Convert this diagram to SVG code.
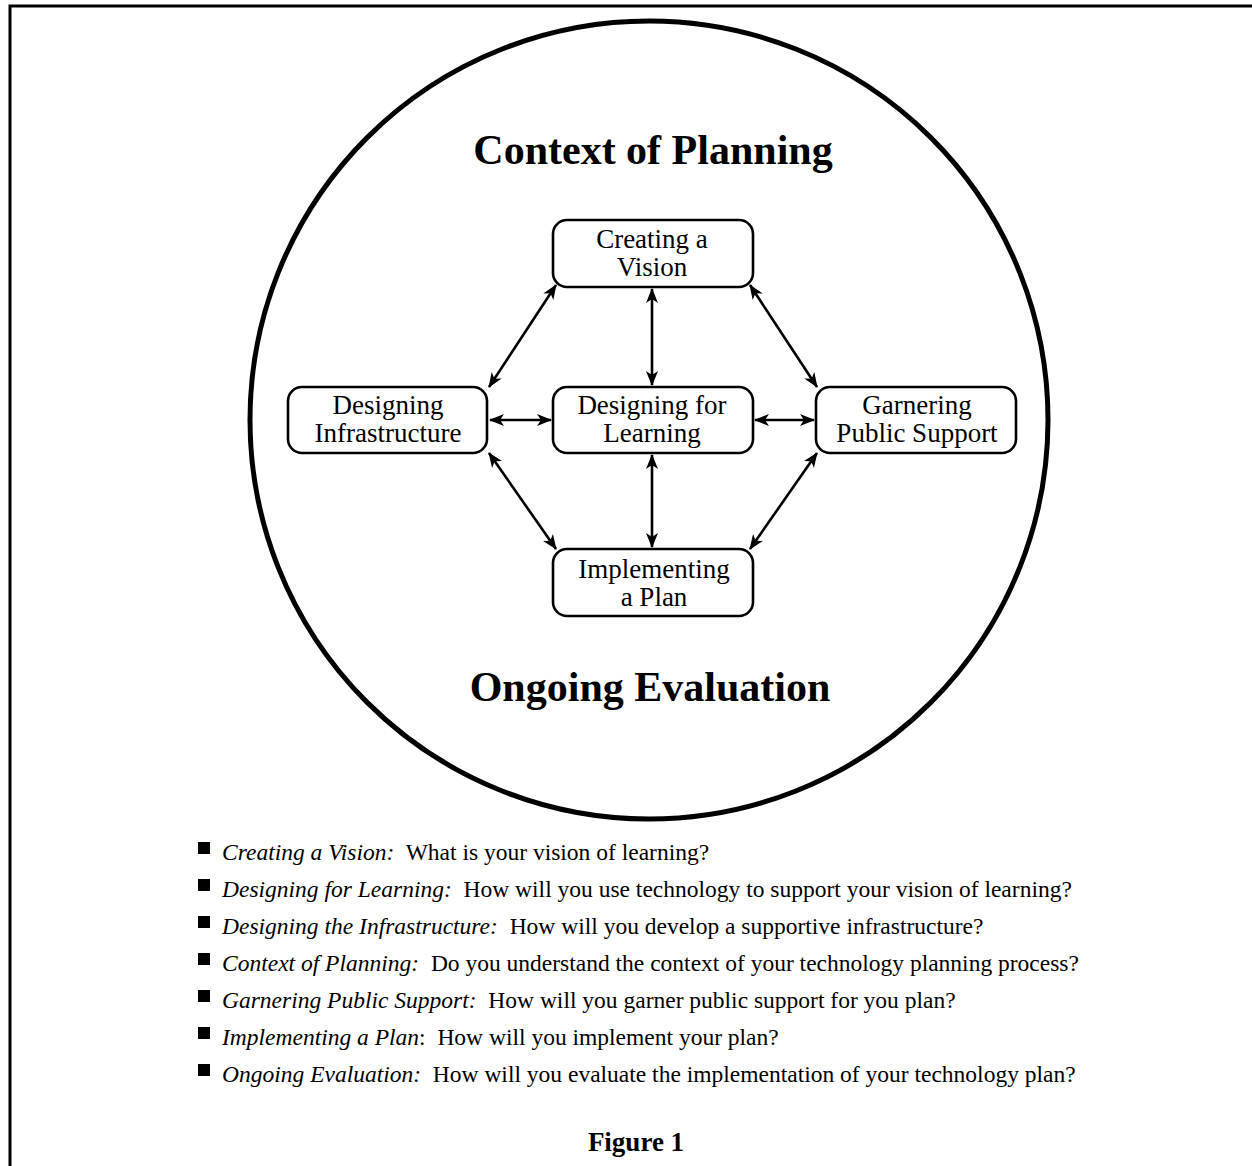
<svg xmlns="http://www.w3.org/2000/svg" width="1252" height="1166" viewBox="0 0 1252 1166">
<style>
.node rect{fill:#fff;stroke:#000;stroke-width:2.6}
.nt{font-family:"Liberation Serif",serif;font-size:27px;text-anchor:middle;fill:#000}
.title{font-family:"Liberation Serif",serif;font-size:42px;font-weight:bold;text-anchor:middle;fill:#000}
.conn line{stroke:#000;stroke-width:2.6;marker-start:url(#ah);marker-end:url(#ah)}
.bl{font-family:"Liberation Serif",serif;font-size:23.5px;fill:#000}
.it{font-style:italic}
.sq{fill:#000}
</style>
<defs>
<marker id="ah" viewBox="0 0 15 12" refX="14" refY="6" markerWidth="15" markerHeight="12" markerUnits="userSpaceOnUse" orient="auto-start-reverse">
<path d="M0,0 L15,6 L0,12 L4,6 z" fill="#000"/>
</marker>
</defs>
<rect x="0" y="0" width="1252" height="1166" fill="#fff"/>
<path d="M10,1166 V6 H1252" fill="none" stroke="#000" stroke-width="3"/>
<circle cx="649" cy="420" r="399" fill="none" stroke="#000" stroke-width="5"/>
<text class="title" x="653" y="164">Context of Planning</text>
<text class="title" x="650" y="701">Ongoing Evaluation</text>
<g class="conn">
<line x1="652" y1="289" x2="652" y2="385"/>
<line x1="652" y1="455" x2="652" y2="547"/>
<line x1="490" y1="420" x2="551" y2="420"/>
<line x1="755" y1="420" x2="814" y2="420"/>
<line x1="556" y1="285" x2="489" y2="387"/>
<line x1="750" y1="285" x2="817" y2="387"/>
<line x1="489" y1="453" x2="556" y2="549"/>
<line x1="817" y1="453" x2="750" y2="549"/>
</g>
<g id="vision" class="node"><rect x="553" y="220" width="200" height="67" rx="14"/><text class="nt" x="652" y="248">Creating a</text><text class="nt" x="652" y="276">Vision</text></g>
<g id="infra" class="node"><rect x="288" y="387" width="199" height="66" rx="14"/><text class="nt" x="388" y="414">Designing</text><text class="nt" x="388" y="442">Infrastructure</text></g>
<g id="learning" class="node"><rect x="553" y="387" width="200" height="66" rx="14"/><text class="nt" x="652" y="414">Designing for</text><text class="nt" x="652" y="442">Learning</text></g>
<g id="public" class="node"><rect x="816" y="387" width="200" height="66" rx="14"/><text class="nt" x="917" y="414">Garnering</text><text class="nt" x="917" y="442">Public Support</text></g>
<g id="implement" class="node"><rect x="553" y="549" width="200" height="67" rx="14"/><text class="nt" x="654" y="578">Implementing</text><text class="nt" x="654" y="606">a Plan</text></g>
<g id="legend">
<rect class="sq" x="198" y="842" width="12" height="12"/>
<text class="bl" x="222" y="860" xml:space="preserve"><tspan class="it">Creating a Vision:</tspan>  What is your vision of learning?</text>
<rect class="sq" x="198" y="879" width="12" height="12"/>
<text class="bl" x="222" y="897" xml:space="preserve"><tspan class="it">Designing for Learning:</tspan>  How will you use technology to support your vision of learning?</text>
<rect class="sq" x="198" y="916" width="12" height="12"/>
<text class="bl" x="222" y="934" xml:space="preserve"><tspan class="it">Designing the Infrastructure:</tspan>  How will you develop a supportive infrastructure?</text>
<rect class="sq" x="198" y="953" width="12" height="12"/>
<text class="bl" x="222" y="971" xml:space="preserve"><tspan class="it">Context of Planning:</tspan>  Do you understand the context of your technology planning process?</text>
<rect class="sq" x="198" y="990" width="12" height="12"/>
<text class="bl" x="222" y="1008" xml:space="preserve"><tspan class="it">Garnering Public Support:</tspan>  How will you garner public support for you plan?</text>
<rect class="sq" x="198" y="1027" width="12" height="12"/>
<text class="bl" x="222" y="1045" xml:space="preserve"><tspan class="it">Implementing a Plan</tspan>:  How will you implement your plan?</text>
<rect class="sq" x="198" y="1064" width="12" height="12"/>
<text class="bl" x="222" y="1082" xml:space="preserve"><tspan class="it">Ongoing Evaluation:</tspan>  How will you evaluate the implementation of your technology plan?</text>
</g>
<text x="636" y="1151" font-family="'Liberation Serif',serif" font-size="27" font-weight="bold" text-anchor="middle">Figure 1</text>
</svg>
